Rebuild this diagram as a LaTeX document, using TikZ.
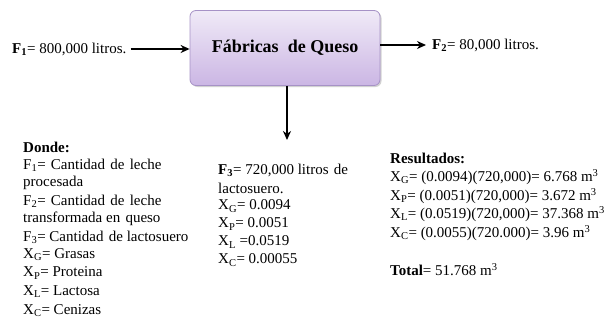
\documentclass[tikz,border=0pt]{standalone}
\usepackage{fontspec}
\setmainfont{Liberation Serif}
\usetikzlibrary{arrows.meta,shadows}
\definecolor{boxtop}{HTML}{F0EAF7}
\definecolor{boxbot}{HTML}{CBB6E4}
\definecolor{boxline}{HTML}{A692C6}
\newcommand{\sbs}[1]{\textsubscript{#1}}
\newcommand{\sps}[1]{\textsuperscript{#1}}
\newcommand{\wsp}{\ \hspace{1.5pt}}
\begin{document}
\begin{tikzpicture}[x=1pt,y=-1pt,
  txt/.style={anchor=west,inner sep=0pt,font=\fontsize{15}{17}\selectfont},
  flow/.style={-{Stealth[length=9pt,width=8pt]},line width=1.5pt},
  proc/.style={draw=boxline,line width=0.8pt,rounded corners=6pt,top color=boxtop,bottom color=boxbot,
    drop shadow={shadow xshift=1.5pt,shadow yshift=-1.5pt,fill=black!35},minimum width=190pt,minimum height=75pt,
    font=\bfseries\fontsize{18}{20}\selectfont}]
\useasboundingbox (0,0) rectangle (613,329);
\node[proc] (box) at (285,48) {Fábricas\ \ de Queso};
\node[txt] (f1) at (12,49) {\textbf{F\sbs{1}}= 800,000 litros.};
\node[txt] (f2) at (432,45) {\textbf{F\sbs{2}}= 80,000 litros.};
\coordinate (dn) at (287,140);
\draw[flow] (f1.east) ++(4pt,0) coordinate (a1) -- (box.west |- a1);
\draw[flow] (box.east |- f2.west) -- ([xshift=-6pt]f2.west);
\draw[flow] (box.south -| dn) -- (dn);
% Donde
\node[txt] (d0) at (23,147) {\textbf{Donde:}};
\node[txt] (d1) at (23,165) {F\sbs{1}=\wsp Cantidad\wsp de\wsp leche};
\node[txt] (d2) at (23,183) {procesada};
\node[txt] (d3) at (23,201) {F\sbs{2}=\wsp Cantidad\wsp de\wsp leche};
\node[txt] (d4) at (23,219) {transformada en\wsp queso};
\node[txt] (d5) at (23,237) {F\sbs{3}= Cantidad\wsp de lactosuero};
\node[txt] (d6) at (23,255) {X\sbs{G}= Grasas};
\node[txt] (d7) at (23,273) {X\sbs{P}= Proteina};
\node[txt] (d8) at (23,292) {X\sbs{L}= Lactosa};
\node[txt] (d9) at (23,311) {X\sbs{C}= Cenizas};
% middle
\node[txt] (m0) at (218,170) {\textbf{F\sbs{3}}= 720,000 litros\wsp de};
\node[txt] (m1) at (218,188) {lactosuero.};
\node[txt] (m2) at (218,206) {X\sbs{G}= 0.0094};
\node[txt] (m3) at (218,224) {X\sbs{P}= 0.0051};
\node[txt] (m4) at (218,242) {X\sbs{L} =0.0519};
\node[txt] (m5) at (218,260) {X\sbs{C}= 0.00055};
% results
\node[txt] (r0) at (390,158) {\textbf{Resultados:}};
\node[txt] (r1) at (390,177) {X\sbs{G}= (0.0094)(720,000)= 6.768 m\sps{3}};
\node[txt] (r2) at (390,196) {X\sbs{P}= (0.0051)(720,000)= 3.672 m\sps{3}};
\node[txt] (r3) at (390,214) {X\sbs{L}= (0.0519)(720,000)= 37.368 m\sps{3}};
\node[txt] (r4) at (390,233) {X\sbs{C}= (0.0055)(720.000)= 3.96 m\sps{3}};
\node[txt] (r5) at (390,270) {\textbf{Total}= 51.768 m\sps{3}};
\end{tikzpicture}
\end{document}
